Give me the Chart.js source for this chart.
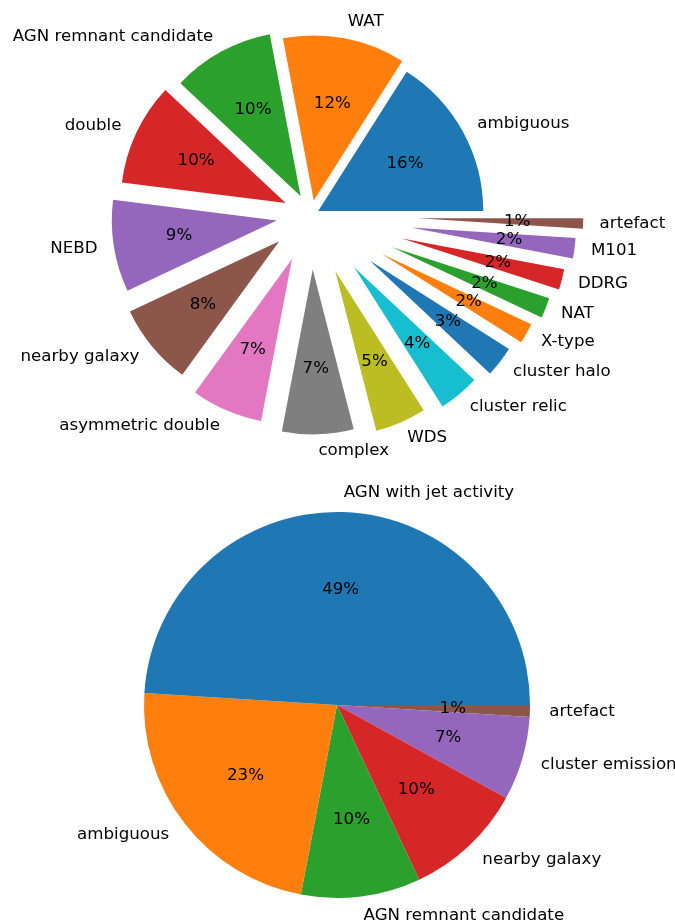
<!DOCTYPE html>
<html lang="en">
<head>
  <meta charset="UTF-8" />
  <title>Morphology class fractions</title>
  <script src="https://cdn.jsdelivr.net/npm/chart.js"></script>
  <style>
    body { margin: 0; background: #fff; }
    #wrap { position: relative; width: 675px; height: 923px; }
    canvas { position: absolute; left: 0; }
  </style>
</head>
<body>
  <div id="wrap">
    <canvas id="detailPie" width="675" height="460" style="top:0"></canvas>
    <canvas id="groupPie" width="675" height="463" style="top:460px"></canvas>
  </div>

  <script>
    // Top pie: detailed classes (% of sample)
    const detailLabels = ['ambiguous', 'WAT', 'AGN remnant candidate', 'double', 'NEBD',
      'nearby galaxy', 'asymmetric double', 'complex', 'WDS', 'cluster relic',
      'cluster halo', 'X-type', 'NAT', 'DDRG', 'M101', 'artefact'];
    const detailValues = [16, 12, 10, 10, 9, 8, 7, 7, 5, 4, 3, 2, 2, 2, 2, 1];

    // Bottom pie: grouped classes (% of sample)
    const groupLabels = ['AGN with jet activity', 'ambiguous', 'AGN remnant candidate',
      'nearby galaxy', 'cluster emission', 'artefact'];
    const groupValues = [49, 23, 10, 10, 7, 1];

    // styling
    const tab10 = ['#1f77b4', '#ff7f0e', '#2ca02c', '#d62728', '#9467bd',
      '#8c564b', '#e377c2', '#7f7f7f', '#bcbd22', '#17becf'];
    const detailExplode = [0.05, 0.09, 0.13, 0.17, 0.21, 0.25, 0.29, 0.33,
      0.37, 0.41, 0.45, 0.49, 0.53, 0.57, 0.61, 0.65];
    const FONT = '16.67px "DejaVu Sans"';

    // matplotlib goes counter-clockwise from 3 o'clock; Chart.js goes clockwise,
    // so feed the slices in reverse order starting at 90deg
    const rev = arr => arr.slice().reverse();
    const colorsFor = n => Array.from({ length: n }, (_, i) => tab10[i % tab10.length]);

    // push each wedge out along its bisector (fraction of radius)
    const explodePlugin = {
      id: 'explode',
      afterDatasetUpdate(chart, args, opts) {
        const amounts = opts.values || [];
        args.meta.data.forEach((arc, i) => {
          const d = (amounts[i] || 0) * arc.outerRadius;
          const mid = (arc.startAngle + arc.endAngle) / 2;
          arc.x += d * Math.cos(mid);
          arc.y += d * Math.sin(mid);
        });
      }
    };

    // outer labels at 1.1r, percentages at 0.6r
    const pieLabels = {
      id: 'pieLabels',
      afterDatasetsDraw(chart) {
        const ctx = chart.ctx;
        const meta = chart.getDatasetMeta(0);
        const values = chart.data.datasets[0].data;
        const total = values.reduce((a, b) => a + b, 0);
        ctx.save();
        ctx.font = FONT;
        ctx.fillStyle = '#000';
        ctx.textBaseline = 'middle';
        meta.data.forEach((arc, i) => {
          const mid = (arc.startAngle + arc.endAngle) / 2;
          const r = arc.outerRadius;
          const c = Math.cos(mid), s = Math.sin(mid);
          ctx.textAlign = c > 0 ? 'left' : 'right';
          ctx.fillText(chart.data.labels[i], arc.x + 1.1 * r * c, arc.y + 1.1 * r * s);
          ctx.textAlign = 'center';
          ctx.fillText(Math.round(values[i] / total * 100) + '%', arc.x + 0.6 * r * c, arc.y + 0.6 * r * s);
        });
        ctx.restore();
      }
    };

    function makePie(id, labels, values, radius, padding, explode) {
      return new Chart(document.getElementById(id), {
        type: 'pie',
        data: {
          labels: rev(labels),
          datasets: [{
            data: rev(values),
            backgroundColor: rev(colorsFor(values.length)),
            borderWidth: 0,
            clip: false
          }]
        },
        options: {
          responsive: false,
          animation: false,
          events: [],
          rotation: 90,
          radius: radius,
          layout: { padding: padding },
          plugins: {
            legend: { display: false },
            tooltip: { enabled: false },
            explode: { values: explode ? rev(explode) : [] }
          }
        },
        plugins: [explodePlugin, pieLabels]
      });
    }

    makePie('detailPie', detailLabels, detailValues, 165,
      { left: 0, top: 0, right: 53, bottom: 30 }, detailExplode);
    makePie('groupPie', groupLabels, groupValues, 193,
      { left: 0, top: 27, right: 1, bottom: 0 }, null);
  </script>
</body>
</html>
